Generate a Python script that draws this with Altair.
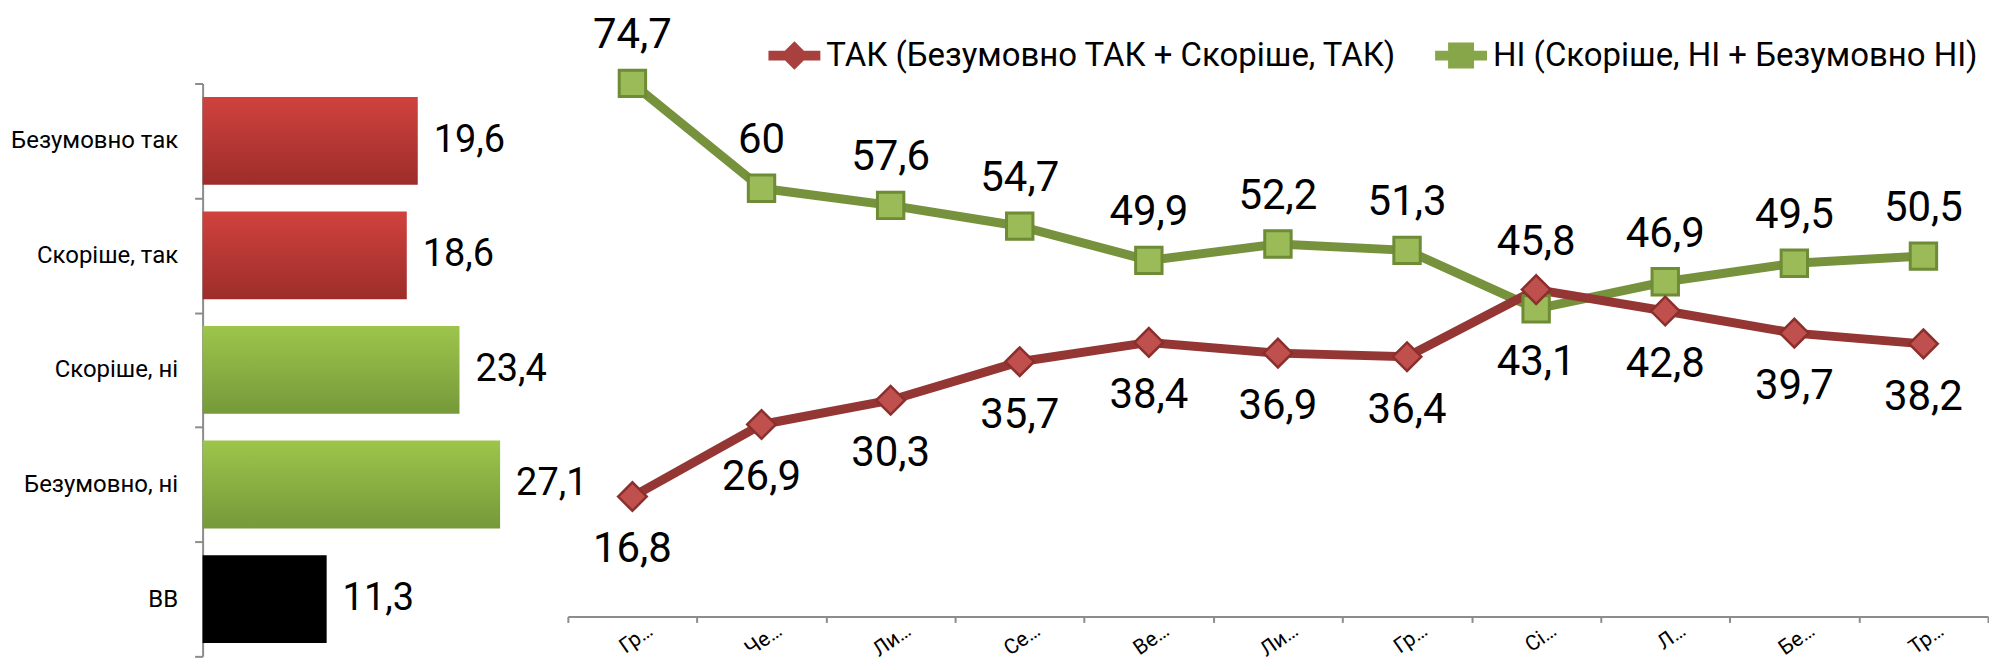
import json
import altair as alt
import pandas as pd

# ---------------- data ----------------
bar_categories = ["Безумовно так", "Скоріше, так", "Скоріше, ні", "Безумовно, ні", "ВВ"]
bar_values = [19.6, 18.6, 23.4, 27.1, 11.3]
bar_groups = ["так", "так", "ні", "ні", "вв"]

month_labels = ["Гр…", "Че…", "Ли…", "Се…", "Ве…", "Ли…", "Гр…", "Сі…", "Л…", "Бе…", "Тр…"]
tak_values = [16.8, 26.9, 30.3, 35.7, 38.4, 36.9, 36.4, 45.8, 42.8, 39.7, 38.2]
ni_values = [74.7, 60, 57.6, 54.7, 49.9, 52.2, 51.3, 43.1, 46.9, 49.5, 50.5]

series_names = ["ТАК (Безумовно ТАК + Скоріше, ТАК)", "НІ (Скоріше, НІ + Безумовно НІ)"]


def fmt(v):
    return f"{v:g}".replace(".", ",")


bar_df = pd.DataFrame({
    "cat": bar_categories,
    "value": bar_values,
    "grp": bar_groups,
    "label": [fmt(v) for v in bar_values],
})

rows = []
for i in range(len(month_labels)):
    t, n = tak_values[i], ni_values[i]
    rows.append({"idx": i, "series": series_names[0], "value": t,
                 "label": fmt(t), "pos": "above" if t >= n else "below"})
    rows.append({"idx": i, "series": series_names[1], "value": n,
                 "label": fmt(n), "pos": "above" if n > t else "below"})
line_df = pd.DataFrame(rows)

FONT = "Roboto"
GREY = "#8c8c8c"

# ---------------- bar panel ----------------
bar_y = alt.Y(
    "cat:N",
    scale=alt.Scale(domain=bar_categories, range=[38, 612], paddingInner=0, paddingOuter=0),
    axis=alt.Axis(title=None, domainColor=GREY, domainWidth=2, tickColor=GREY, tickWidth=2,
                  tickSize=8, tickBand="extent", labelPadding=17, labelFontSize=24,
                  labelFont=FONT, labelColor="black", labelLimit=0),
)
bar_x = alt.X("value:Q", scale=alt.Scale(domain=[0, 30]), axis=None)


def grad(top, bottom):
    return alt.LinearGradient(
        gradient="linear",
        stops=[alt.GradientStop(color=top, offset=0), alt.GradientStop(color=bottom, offset=1)],
        x1=0, x2=0, y1=0, y2=1,
    )


def bar_layer(g, color):
    return (alt.Chart(bar_df).transform_filter(alt.datum.grp == g)
            .mark_bar(height={"band": 0.766}, color=color)
            .encode(x=bar_x, y=bar_y))


bar_text = alt.Chart(bar_df).mark_text(
    align="left", baseline="middle", dx=16, fontSize=38, font=FONT, color="black"
).encode(x=bar_x, y=bar_y, text="label:N")

bar_chart = alt.layer(
    bar_layer("так", grad("#D0423E", "#9D2D2A")),
    bar_layer("ні", grad("#9DC54B", "#76993A")),
    bar_layer("вв", "#000000"),
    bar_text,
).properties(width=330, height=612)

# ---------------- line panel ----------------
label_expr = json.dumps(month_labels, ensure_ascii=False) + "[datum.value]"
x_enc = alt.X(
    "idx:O",
    scale=alt.Scale(type="band", domain=list(range(len(month_labels))), paddingInner=0, paddingOuter=0),
    bandPosition=0.5,
    axis=alt.Axis(title=None, labelExpr=label_expr, labelAngle=-35, labelAlign="right",
                  labelBaseline="middle", labelOffset=18, labelPadding=6, tickBand="extent",
                  tickSize=6, tickColor=GREY, tickWidth=2, domainColor=GREY, domainWidth=2,
                  labelFontSize=21, labelFont=FONT, labelColor="black"),
)
y_enc = alt.Y("value:Q", scale=alt.Scale(domain=[0, 80]), axis=None)

base = alt.Chart(line_df)


def series_line(name, color):
    return base.transform_filter(alt.datum.series == name).mark_line(
        color=color, strokeWidth=9).encode(x=x_enc, y=y_enc)


pts_tak = base.transform_filter(alt.datum.series == series_names[0]).mark_point(
    shape="diamond", filled=True, fill="#C0504D", stroke="#8B2F2D", strokeWidth=2.5,
    size=820, opacity=1).encode(x=x_enc, y=y_enc)
pts_ni = base.transform_filter(alt.datum.series == series_names[1]).mark_point(
    shape="square", filled=True, fill="#9BBB59", stroke="#6E8B35", strokeWidth=3,
    size=700, opacity=1).encode(x=x_enc, y=y_enc)

text_above = base.transform_filter(alt.datum.pos == "above").mark_text(
    dy=-48, baseline="middle", fontSize=42, font=FONT, color="black"
).encode(x=x_enc, y=y_enc, text="label:N")
text_below = base.transform_filter(alt.datum.pos == "below").mark_text(
    dy=53, baseline="middle", fontSize=42, font=FONT, color="black"
).encode(x=x_enc, y=y_enc, text="label:N")

path_tak = "M-1,-0.19L1,-0.19L1,0.19L-1,0.19Z M0,-0.55L0.55,0L0,0.55L-0.55,0Z"
path_ni = "M-1,-0.19L1,-0.19L1,0.19L-1,0.19Z M-0.5,-0.5L0.5,-0.5L0.5,0.5L-0.5,0.5Z"

legend_def = alt.Legend(
    title=None, orient="none", legendX=567, legendY=-16, direction="horizontal",
    labelFontSize=33, labelFont=FONT, labelColor="black", labelLimit=1000,
    symbolSize=2704, columnPadding=38, labelOffset=6, padding=0,
    symbolStrokeWidth=0, symbolOpacity=1,
)
legend_layer = base.mark_point(filled=True, opacity=0).encode(
    x=x_enc, y=y_enc,
    color=alt.Color("series:N", scale=alt.Scale(domain=series_names, range=["#A8403D", "#86A649"]),
                    legend=legend_def),
    shape=alt.Shape("series:N", scale=alt.Scale(domain=series_names, range=[path_tak, path_ni]),
                    legend=legend_def),
)

line_chart = alt.layer(
    series_line(series_names[1], "#76923C"),
    series_line(series_names[0], "#943634"),
    pts_ni, pts_tak,
    text_above, text_below,
    legend_layer,
).properties(width=1423, height=572)

chart = alt.hconcat(bar_chart, line_chart, spacing=36, bounds="flush").properties(
    padding={"left": 2, "top": 5, "right": 0, "bottom": 0},
    background="white",
).configure(font=FONT).configure_view(stroke=None)

chart.save("out.html", embed_options={"renderer": "svg", "actions": False})
